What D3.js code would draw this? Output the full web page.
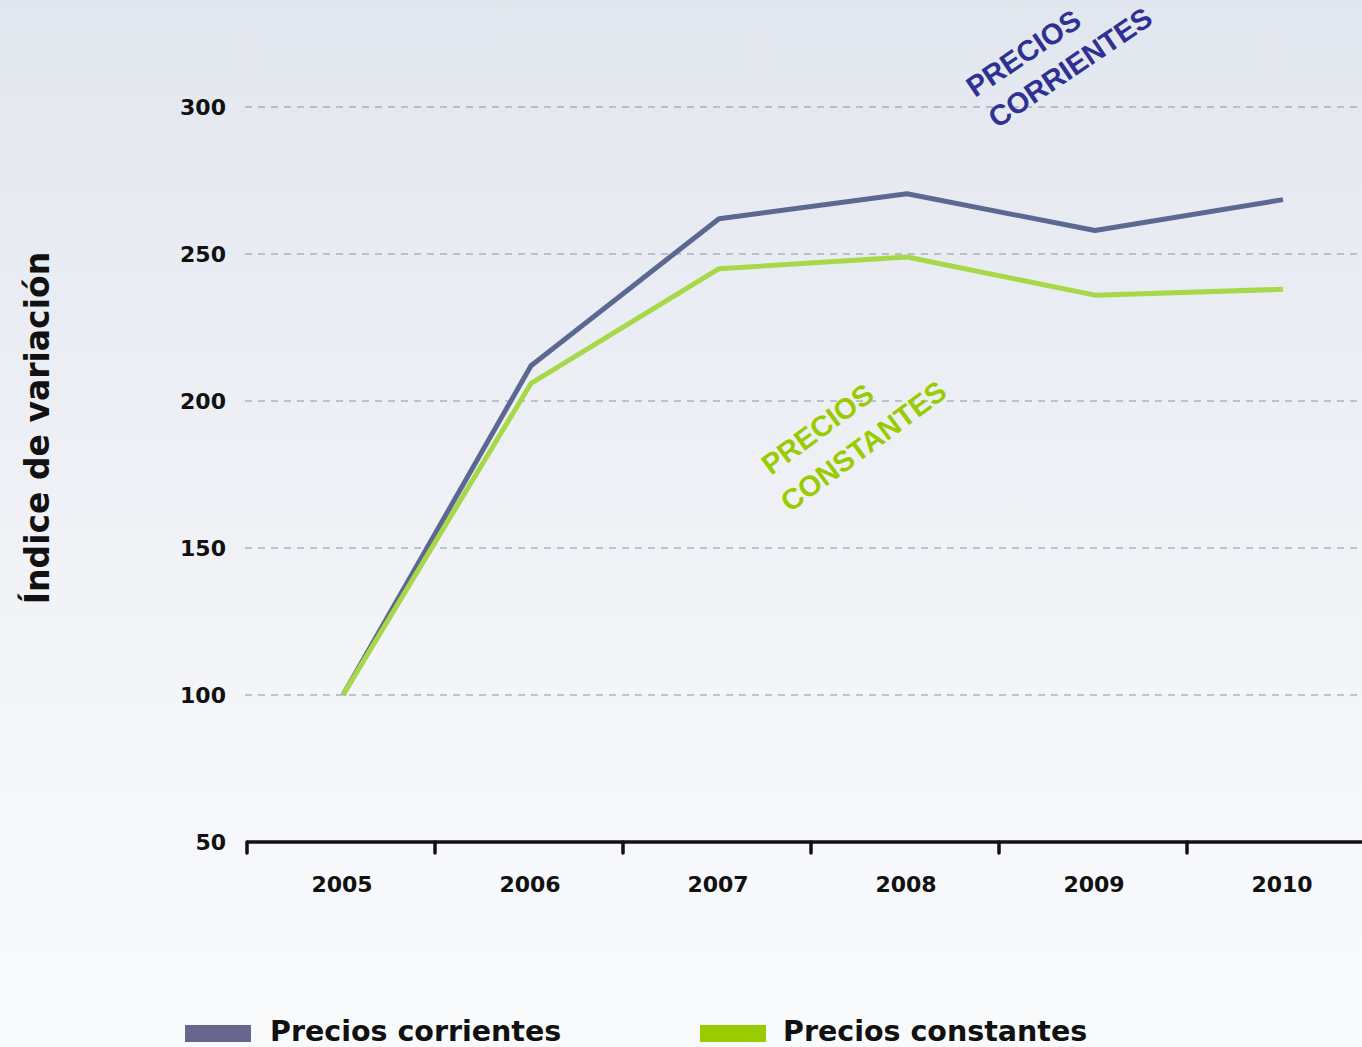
<!DOCTYPE html>
<html><head><meta charset="utf-8">
<script src="https://cdn.jsdelivr.net/npm/d3@7"></script>
<style>html,body{margin:0;padding:0;overflow:hidden;}svg{display:block;}</style>
</head><body>
<svg id="c" width="1362" height="1047"></svg>
<script>
const years = ["2005","2006","2007","2008","2009","2010"];
const corrientes = [100, 212, 262, 270.5, 258, 268.5];
const constantes = [100, 206, 245, 249, 236, 238];
const yTicks = [50, 100, 150, 200, 250, 300];
const seriesNames = ["Precios corrientes", "Precios constantes"];
const annoCorr = ["PRECIOS", "CORRIENTES"];
const annoCons = ["PRECIOS", "CONSTANTES"];

(function(){
const W = 1362, H = 1047;
const svg = d3.select("#c");
const defs = svg.append("defs");
const grad = defs.append("linearGradient").attr("id","bg").attr("x1",0).attr("y1",0).attr("x2",0).attr("y2",1);
grad.append("stop").attr("offset","0%").attr("stop-color","#e2e6ee");
grad.append("stop").attr("offset","75%").attr("stop-color","#f6f7fa");
grad.append("stop").attr("offset","100%").attr("stop-color","#f9fafc");
svg.append("rect").attr("width",W).attr("height",H).attr("fill","url(#bg)");

const mLeft = 247, mRight = 1375, mTop = 107, mBottom = 842;
const x = d3.scaleBand().domain(years).range([mLeft, mRight]).padding(0);
const y = d3.scaleLinear().domain([50, 300]).range([mBottom, mTop]);
const font = "'DejaVu Sans', sans-serif";

// gridlines
svg.append("g").selectAll("line").data(yTicks.filter(d => d > 50)).join("line")
  .attr("x1", mLeft - 2).attr("x2", W)
  .attr("y1", d => y(d)).attr("y2", d => y(d))
  .attr("stroke", "#8a92b0").attr("stroke-width", 1.2).attr("stroke-dasharray", "7,6");

// y tick labels
svg.append("g").selectAll("text").data(yTicks).join("text")
  .attr("x", 226).attr("y", d => y(d)).attr("dy", "0.36em")
  .attr("text-anchor", "end").attr("font-family", font).attr("font-weight", "bold")
  .attr("font-size", 22).attr("fill", "#111").text(d => d);

// x axis
const xAxis = d3.axisBottom(x).tickSize(0).tickFormat("");
const gx = svg.append("g").attr("transform", `translate(0,${mBottom})`).call(xAxis);
gx.select(".domain").attr("stroke", "#111").attr("stroke-width", 3.5).attr("d", `M${mLeft},0H${W}`);
const bounds = years.map(d => x(d));
svg.append("g").selectAll("line").data(bounds).join("line")
  .attr("x1", d => d).attr("x2", d => d).attr("y1", mBottom).attr("y2", mBottom + 11)
  .attr("stroke", "#111").attr("stroke-width", 3.5).attr("stroke-linecap","round");
svg.append("g").selectAll("text").data(years).join("text")
  .attr("x", d => x(d) + x.bandwidth()/2 + 1).attr("y", 892)
  .attr("text-anchor", "middle").attr("font-family", font).attr("font-weight", "bold")
  .attr("font-size", 22).attr("fill", "#111").text(d => d);

// lines
const line = d3.line().x((d,i) => x(years[i]) + x.bandwidth()/2 + 2).y(d => y(d));
svg.append("path").datum(corrientes).attr("d", line).attr("fill","none")
  .attr("stroke", "#5b6892").attr("stroke-width", 5).attr("stroke-linejoin","round");
svg.append("path").datum(constantes).attr("d", line).attr("fill","none")
  .attr("stroke", "#a8d84a").attr("stroke-width", 5).attr("stroke-linejoin","round");

// annotations
function anno(lines, pts, angle, color) {
  lines.forEach((t, i) => {
    svg.append("text").attr("transform", `translate(${pts[i][0]},${pts[i][1]}) rotate(${angle})`)
      .attr("font-family", "'Liberation Sans', Arial, sans-serif").attr("font-weight", "bold")
      .attr("font-size", 29).attr("fill", color).text(t);
  });
}
anno(annoCorr, [[975, 98], [997, 129]], -34, "#2e3192");
anno(annoCons, [[771, 476], [790, 513]], -36.5, "#99cc00");

// y title
svg.append("text").attr("transform", "translate(49,428) rotate(-90)")
  .attr("text-anchor", "middle").attr("font-family", font).attr("font-weight", "bold")
  .attr("font-size", 33).attr("fill", "#111").text("Índice de variación");

// legend
const legColors = ["#66668f", "#99cc00"];
const legX = [185, 700];
seriesNames.forEach((n, i) => {
  svg.append("rect").attr("x", legX[i]).attr("y", 1025).attr("width", 66).attr("height", 17).attr("fill", legColors[i]);
  svg.append("text").attr("x", legX[i] + (i === 0 ? 85 : 83)).attr("y", 1041)
    .attr("font-family", font).attr("font-weight", "bold").attr("font-size", 28.5)
    .attr("fill", "#111").text(n);
});
})();
</script>
</body></html>
